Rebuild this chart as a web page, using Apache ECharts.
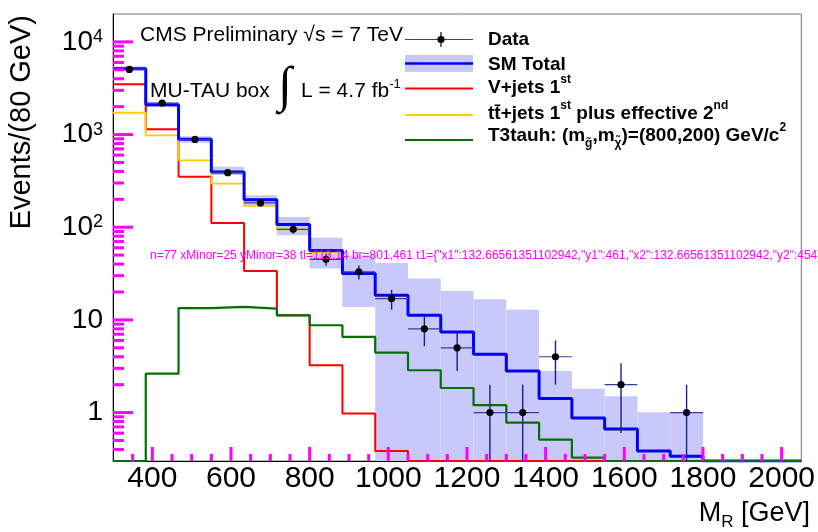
<!DOCTYPE html>
<html>
<head>
<meta charset="utf-8">
<script src="https://cdn.jsdelivr.net/npm/echarts@6.0.0/dist/echarts.min.js"></script>
<style>
  html, body { margin: 0; padding: 0; background: #fff; }
  #main { width: 818px; height: 532px; }
</style>
</head>
<body>
<div id="main"></div>
<script>
// M_R histogram, MU-TAU box, log scale
var binEdges = [300, 383.33, 466.67, 550, 633.33, 716.67, 800, 883.33, 966.67, 1050, 1133.33,
                1216.67, 1300, 1383.33, 1466.67, 1550, 1633.33, 1716.67, 1800, 1883.33, 1966.67, 2050];

var smTotal = [5140, 2100, 888, 394, 198, 107, 56, 31.6, 18.4, 11.2, 7.4, 4.26, 2.81, 1.42, 0.875, 0.665, 0.385, 0.338, 0, 0, 0];
var bandHi  = [5450, 2230, 960, 450, 222, 129, 77, 49.8, 41, 27.9, 20.5, 16.7, 12.9, 2.81, 1.81, 1.5, 1.01, 1.01, 0, 0, 0];
var bandLo  = [4850, 1970, 815, 365, 166, 82, 35.8, 13.8, 0, 0, 0, 0, 0, 0, 0, 0, 0, 0, 0, 0, 0];
var vJets   = [3500, 1140, 350, 111, 33.7, 11.2, 3.24, 0.975, 0.385, 0, 0, 0, 0, 0, 0, 0, 0, 0, 0, 0, 0];
var ttJets  = [1720, 980, 527, 295, 170, 94, 54, 31, 18, 11.1, 7.3, 4.2, 2.78, 1.4, 0.86, 0.65, 0.38, 0.33, 0, 0, 0];
var t3tauh  = [0, 2.63, 13.4, 13.8, 13.2, 11.2, 8.75, 6.54, 4.44, 2.86, 1.84, 1.2, 0.78, 0.51, 0.327, 0, 0, 0, 0, 0, 0];
var dataN   = [5050, 2190, 885, 388, 183, 95, 45, 33, 17, 8, 5, 1, 1, 4, 0, 2, 0, 1, 0, 0, 0];
var dataErr = [71, 47, 30, 20, 13.5, 9.7, 6.7, 5.7, 4.1, 2.8, 2.2, 1, 1, 2, 0, 1.4, 0, 1, 0, 0, 0];

var xMajor = [400, 600, 800, 1000, 1200, 1400, 1600, 1800, 2000];
var yMajor = [1, 10, 100, 1000, 10000];

var xMin = 300, xMax = 2050, yMin = 0.3, yMax = 20000;
var FONT = '"Liberation Sans", Arial, Helvetica, sans-serif';
var bandColor = '#c8c8fa';

// minor tick positions
var xMinor = [];
for (var xv = 350; xv < xMax; xv += 50) if (xMajor.indexOf(xv) < 0) xMinor.push(xv);
var yMinor = [];
[0.1, 1, 10, 100, 1000].forEach(function (d) {
  for (var m = 2; m <= 9; m++) {
    var t = +(d * m).toPrecision(3);
    if (t > yMin && t < yMax) yMinor.push(t);
  }
});

function floorVal(v) { return v > yMin ? v : yMin; }

function histPoints(vals) {
  var pts = [];
  for (var k = 0; k < vals.length; k++) pts.push([binEdges[k], floorVal(vals[k])]);
  pts.push([binEdges[vals.length], floorVal(vals[vals.length - 1])]);
  return pts;
}

var bandData = [];
for (var i = 0; i < bandHi.length; i++) {
  if (bandHi[i] > 0) bandData.push([binEdges[i], binEdges[i + 1], bandLo[i], bandHi[i]]);
}
var pointData = [];
for (var j = 0; j < dataN.length; j++) {
  if (dataN[j] > 0) {
    pointData.push([(binEdges[j] + binEdges[j + 1]) / 2, dataN[j], dataErr[j], binEdges[j], binEdges[j + 1]]);
  }
}

function stepSeries(name, vals, color, width, z) {
  return {
    name: name, type: 'line', step: 'end', data: histPoints(vals),
    showSymbol: false, symbol: 'none', clip: true, z: z,
    lineStyle: { color: color, width: width }
  };
}

var myChart = echarts.init(document.getElementById('main'));

var legX0 = 405, legX1 = 473, legTx = 488;
var legRich = {
  sup: { fontSize: 12, fontWeight: 'bold', fontFamily: FONT, verticalAlign: 'top', lineHeight: 12 },
  sub: { fontSize: 12, fontWeight: 'bold', fontFamily: FONT, verticalAlign: 'bottom', lineHeight: 12 }
};
function legText(y, txt) {
  return {
    type: 'text', x: legTx, y: y, z: 20,
    style: { text: txt, fontSize: 19, fontWeight: 'bold', fontFamily: FONT, fill: '#000',
             verticalAlign: 'middle', lineHeight: 28, rich: legRich }
  };
}
function legLine(y, color, w) {
  return { type: 'line', z: 20, shape: { x1: legX0, y1: y, x2: legX1, y2: y }, style: { stroke: color, lineWidth: w } };
}

var option = {
  animation: false,
  backgroundColor: '#fff',
  grid: { left: 113, top: 14, right: 7, bottom: 71 },
  xAxis: {
    type: 'value', min: xMin, max: xMax, position: 'bottom',
    axisLine: { show: true, lineStyle: { color: '#000', width: 1 } },
    axisTick: { show: false },
    axisLabel: { customValues: xMajor, fontSize: 30, color: '#000', fontFamily: FONT, margin: 3,
                 formatter: function (val) { return String(val); } },
    splitLine: { show: false }
  },
  yAxis: {
    type: 'log', logBase: 10, min: yMin, max: yMax, position: 'left',
    axisLine: { show: true, lineStyle: { color: '#000', width: 1 } },
    axisTick: { show: false },
    axisLabel: {
      customValues: yMajor, fontSize: 28, color: '#000', fontFamily: FONT, margin: 10,
      formatter: function (val) {
        if (val < 50) return String(Math.round(val));
        return '10{sup|' + Math.round(Math.log10(val)) + '}';
      },
      rich: { sup: { fontSize: 18, fontFamily: FONT, color: '#000', verticalAlign: 'top', lineHeight: 18 } }
    },
    splitLine: { show: false }
  },
  series: [
    {
      name: 'band', type: 'custom', clip: true, z: 1, data: bandData,
      renderItem: function (params, api) {
        var p0 = api.coord([api.value(0), api.value(3)]);
        var p1 = api.coord([api.value(1), floorVal(api.value(2))]);
        return { type: 'rect', shape: { x: p0[0], y: p0[1], width: p1[0] - p0[0], height: p1[1] - p0[1] },
                 style: { fill: bandColor } };
      }
    },
    stepSeries('V+jets', vJets, '#ff0000', 2, 4),
    stepSeries('ttbar', ttJets, '#ffcc00', 1.8, 5),
    stepSeries('SM Total', smTotal, '#0000ff', 3, 6),
    stepSeries('T3tauh', t3tauh, '#007000', 2.2, 7),
    {
      name: 'Data', type: 'custom', clip: true, z: 8, data: pointData,
      renderItem: function (params, api) {
        var n = api.value(1), e = api.value(2);
        var c = api.coord([api.value(0), n]);
        var l = api.coord([api.value(3), n]);
        var r = api.coord([api.value(4), n]);
        var t = api.coord([api.value(0), n + e]);
        var b = api.coord([api.value(0), floorVal(n - e)]);
        return {
          type: 'group', children: [
            { type: 'line', shape: { x1: l[0], y1: c[1], x2: r[0], y2: c[1] }, style: { stroke: '#3a3aa8', lineWidth: 1.2 } },
            { type: 'line', shape: { x1: c[0], y1: t[1], x2: c[0], y2: b[1] }, style: { stroke: '#1a1a9a', lineWidth: 1.4 } },
            { type: 'circle', shape: { cx: c[0], cy: c[1], r: 3.6 }, style: { fill: '#000' } }
          ]
        };
      }
    }
  ]
};

myChart.setOption(option);

// frame and tick marks, placed through the chart's own scales
function px(x, y) { return myChart.convertToPixel({ gridIndex: 0 }, [x, y]); }
var graphics = [];
var pTL = px(xMin, yMax), pBR = px(xMax, yMin);
graphics.push({ type: 'rect', z: 0, silent: true,
  shape: { x: pTL[0], y: pTL[1], width: pBR[0] - pTL[0], height: pBR[1] - pTL[1] },
  style: { fill: 'none', stroke: '#777', lineWidth: 1 } });
function xTick(v, len) {
  var p = px(v, yMin);
  graphics.push({ type: 'line', z: 15, shape: { x1: p[0], y1: p[1], x2: p[0], y2: p[1] - len },
                  style: { stroke: '#ff00ff', lineWidth: 3 } });
}
function yTick(v, len) {
  var p = px(xMin, v);
  graphics.push({ type: 'line', z: 15, shape: { x1: p[0], y1: p[1], x2: p[0] + len, y2: p[1] },
                  style: { stroke: '#ff00ff', lineWidth: 3 } });
}
xMinor.forEach(function (v) { xTick(v, 7); });
xMajor.forEach(function (v) { xTick(v, 14); });
yMinor.forEach(function (v) { yTick(v, 11); });
yMajor.forEach(function (v) { yTick(v, 20); });
var nTicks = graphics.length - 1;
var dbg = 'n=' + nTicks + ' xMinor=' + xMinor.length + ' yMinor=' + yMinor.length +
  ' tl=' + pTL.map(Math.round) + ' br=' + pBR.map(Math.round) +
  ' t1=' + JSON.stringify(graphics[1] && graphics[1].shape);

graphics.push(
  // title texts
  { type: 'text', x: 140, y: 35, z: 20,
    style: { text: 'CMS Preliminary √s = 7 TeV', fontSize: 21, fontFamily: FONT, fill: '#000', verticalAlign: 'middle' } },
  { type: 'text', x: 150, y: 91, z: 20,
    style: { text: 'MU-TAU box', fontSize: 21, fontFamily: FONT, fill: '#000', verticalAlign: 'middle' } },
  { type: 'text', x: 278, y: 88, z: 20,
    style: { text: '∫', fontSize: 50, fontFamily: '"Liberation Serif", "DejaVu Serif", serif', fill: '#000', verticalAlign: 'middle' } },
  { type: 'text', x: 301, y: 91, z: 20,
    style: { text: 'L = 4.7 fb{sup|-1}', fontSize: 21, fontFamily: FONT, fill: '#000', verticalAlign: 'middle', lineHeight: 26,
             rich: { sup: { fontSize: 13, fontFamily: FONT, verticalAlign: 'top', lineHeight: 13 } } } },
  // legend
  legLine(39.5, '#3a3aa8', 1.2),
  { type: 'line', z: 20, shape: { x1: 441, y1: 32, x2: 441, y2: 47 }, style: { stroke: '#1a1a9a', lineWidth: 1.4 } },
  { type: 'circle', z: 21, shape: { cx: 441, cy: 39.5, r: 3.6 }, style: { fill: '#000' } },
  legText(40, 'Data'),
  { type: 'rect', z: 19, shape: { x: legX0, y: 55, width: legX1 - legX0, height: 17 }, style: { fill: bandColor } },
  legLine(63.5, '#0000ff', 2.5),
  legText(64.5, 'SM Total'),
  legLine(88.5, '#ff0000', 2),
  legText(88, 'V+jets 1{sup|st}'),
  legLine(115, '#ffcc00', 1.8),
  legText(114, 't\u0074\u0304+jets 1{sup|st} plus effective 2{sup|nd}'),
  legLine(140, '#007000', 2.2),
  legText(136, 'T3tauh: (m{sub|g\u0303},m{sub|\u03c7\u0303})=(800,200) GeV/c{sup|2}'),
  // axis titles
  { type: 'text', x: 22, y: 15, rotation: Math.PI / 2, z: 20,
    style: { text: 'Events/(80 GeV)', fontSize: 29, fontFamily: FONT, fill: '#000', align: 'right', verticalAlign: 'middle' } },
  { type: 'text', x: 810, y: 514, z: 20,
    style: { text: 'M{sub|R} [GeV]', fontSize: 27, fontFamily: FONT, fill: '#000', align: 'right', verticalAlign: 'middle', lineHeight: 34,
             rich: { sub: { fontSize: 17, fontFamily: FONT, verticalAlign: 'bottom', lineHeight: 17 } } } },
  { type: 'text', x: 150, y: 250, z: 30, style: { text: dbg, fontSize: 12, fill: '#f0f' } }
);

myChart.setOption({ graphic: graphics });
</script>
</body>
</html>
